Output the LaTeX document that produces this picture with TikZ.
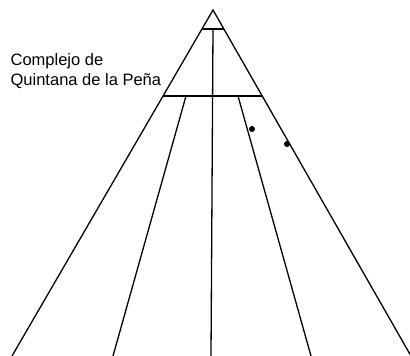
\documentclass[tikz,border=0pt]{standalone}
\usepackage{fontspec}
\setmainfont{Liberation Sans}
\usetikzlibrary{calc}
\begin{document}
\begin{tikzpicture}[x=1pt, y=-1pt, line width=1.3pt]
    \useasboundingbox (0,0) rectangle (410,356);
    \coordinate (apex) at (213,10);
    \coordinate (bl) at (12,356);
    \coordinate (br) at (411,356);
    % outer sides
    \draw (bl) -- (apex) -- (br);
    % small top triangle and the cross line
    \draw ($(apex)!0.055!(bl)$) -- ($(apex)!0.055!(br)$);
    \draw ($(apex)!0.2486!(bl)$) -- ($(apex)!0.2486!(br)$);
    % inner lines
    \draw (213,29) -- (211,356);
    \draw (186,96) -- (113,356);
    \draw (238,96) -- (311,356);
    % points
    \fill (252,129) circle (3);
    \fill (287,144) circle (3);
    \node[anchor=base west, align=left, inner sep=0pt, font=\fontsize{16.5}{20}\selectfont]
        (complejo) at (10,85) {Complejo de\\Quintana de la Peña};
\end{tikzpicture}
\end{document}
